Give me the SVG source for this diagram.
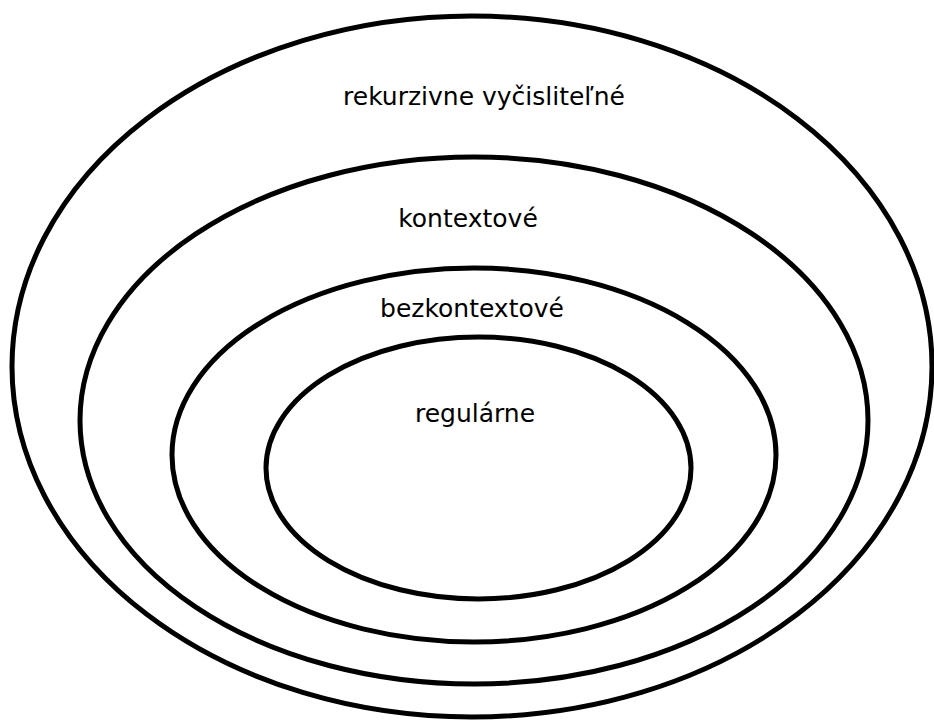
<svg xmlns="http://www.w3.org/2000/svg" width="934" height="720" viewBox="0 0 934 720">
<style>
.e{fill:none;stroke:#000;stroke-width:5}
.t{font-family:"DejaVu Sans",sans-serif;font-size:25px;fill:#000;text-anchor:middle}
</style>
<rect width="934" height="720" fill="#fff"/>
<g id="rekurzivne">
<ellipse class="e" cx="472" cy="366.5" rx="460" ry="350.5"/>
<text class="t" x="484" y="105">rekurzivne vyčisliteľné</text>
</g>
<g id="kontextove">
<ellipse class="e" cx="474" cy="420.5" rx="394" ry="263.5"/>
<text class="t" x="468" y="227">kontextové</text>
</g>
<g id="bezkontextove">
<ellipse class="e" cx="474" cy="455" rx="302" ry="187"/>
<text class="t" x="472" y="317">bezkontextové</text>
</g>
<g id="regularne">
<ellipse class="e" cx="478.5" cy="468" rx="212.5" ry="131"/>
<text class="t" x="475" y="422">regulárne</text>
</g>
<g id="connectors"></g>
</svg>
